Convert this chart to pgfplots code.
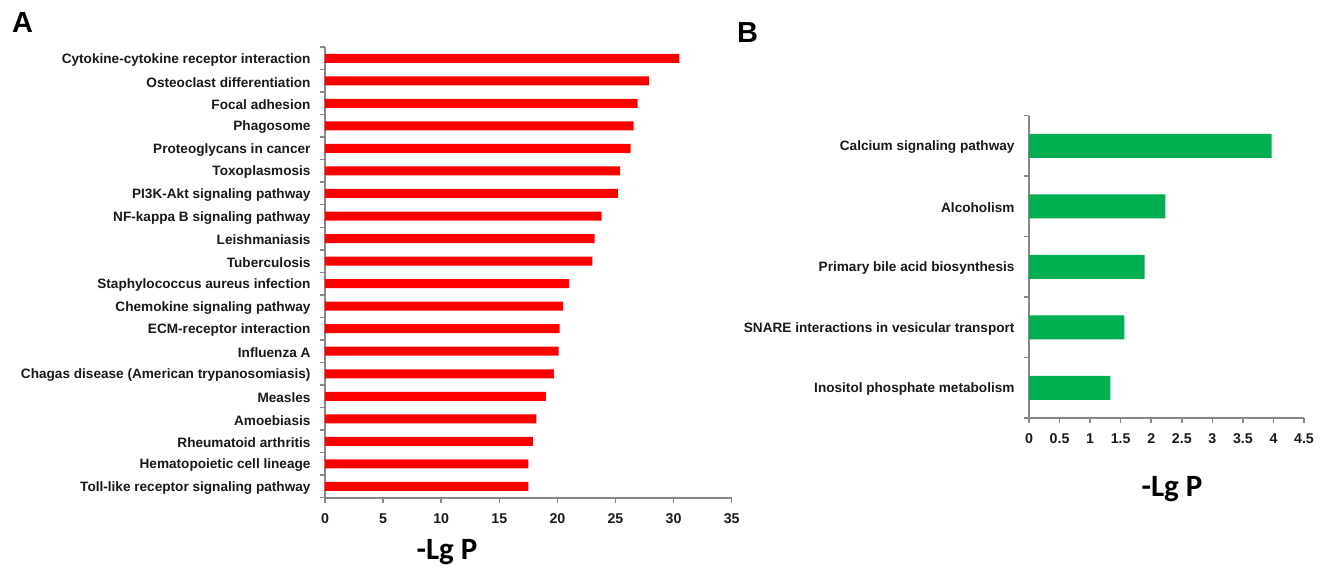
\documentclass[border=0pt]{standalone}
\usepackage{pgfplots}
\pgfplotsset{compat=1.18}
\usepackage{fontspec}
\setmainfont{Liberation Sans}
\newfontfamily\calibri{Carlito}
\definecolor{axgray}{RGB}{135,135,135}
\definecolor{barred}{RGB}{255,0,0}
\definecolor{bargreen}{RGB}{0,176,80}
\begin{document}
\begin{tikzpicture}
\path[use as bounding box] (0pt,0pt) rectangle (1331pt,574pt);
\pgfplotsset{
  common/.style={
    scale only axis,
    xbar, bar shift=0pt,
    axis x line*=bottom, axis y line*=left,
    axis line style={-, axgray, line width=1.8pt},
    tick align=outside,
    every tick/.style={axgray, line width=1.5pt},
    major tick length=5pt, minor tick length=5pt,
    every major y tick/.append style={draw=none},
    tick label style={font=\bfseries\fontsize{13.6}{15}\selectfont, text=black!90},
    /pgf/number format/assume math mode=true,
    xticklabel style={yshift=-7pt, font=\bfseries\fontsize{14.2}{15}\selectfont},
    yticklabel style={xshift=-6pt, yshift=-1.5pt},
    xlabel style={font=\calibri\bfseries\fontsize{31}{34}\selectfont, anchor=base},
  }
}
% Panel A
\begin{axis}[common,
  at={(325pt,76.3pt)}, anchor=south west,
  width=406.7pt, height=450.7pt,
  xmin=0, xmax=35, xtick={0,5,...,35},
  ymin=-0.5, ymax=19.5,
  ytick={0,...,19},
  minor ytick={-0.5,0.5,...,19.5},
  yticklabels={Toll-like receptor signaling pathway,
    Hematopoietic cell lineage,
    Rheumatoid arthritis,
    Amoebiasis,
    Measles,
    Chagas disease (American trypanosomiasis),
    Influenza A,
    ECM-receptor interaction,
    Chemokine signaling pathway,
    Staphylococcus aureus infection,
    Tuberculosis,
    Leishmaniasis,
    NF-kappa B signaling pathway,
    PI3K-Akt signaling pathway,
    Toxoplasmosis,
    Proteoglycans in cancer,
    Phagosome,
    Focal adhesion,
    Osteoclast differentiation,
    Cytokine-cytokine receptor interaction},
  bar width=9pt,
  xlabel={-Lg P},
  xlabel style={at={(axis description cs:0.30,-0.138)}},
]
\addplot[draw=none, fill=barred] coordinates {
(17.5,0) (17.5,1) (17.9,2) (18.2,3) (19.0,4) (19.7,5) (20.1,6) (20.2,7)
(20.5,8) (21.0,9) (23.0,10) (23.2,11) (23.8,12) (25.2,13) (25.4,14)
(26.3,15) (26.55,16) (26.9,17) (27.9,18) (30.5,19)};
\end{axis}
% Panel B
\begin{axis}[common,
  at={(1029pt,156pt)}, anchor=south west,
  width=275pt, height=302.5pt,
  xmin=0, xmax=4.5, xtick={0,0.5,...,4.5},
  ymin=-0.5, ymax=4.5,
  ytick={0,...,4},
  minor ytick={-0.5,0.5,...,4.5},
  yticklabels={Inositol phosphate metabolism,
    SNARE interactions in vesicular transport,
    Primary bile acid biosynthesis,
    Alcoholism,
    Calcium signaling pathway},
  bar width=24pt,
  xlabel={-Lg P},
  xlabel style={at={(axis description cs:0.52,-0.261)}},
]
\addplot[draw=none, fill=bargreen] coordinates {
(1.33,0) (1.56,1) (1.89,2) (2.23,3) (3.97,4)};
\end{axis}
\node[anchor=base west, font=\bfseries\fontsize{29}{32}\selectfont, inner sep=0pt] at (12pt,541pt) {A};
\node[anchor=base west, font=\bfseries\fontsize{29}{32}\selectfont, inner sep=0pt] at (737pt,531pt) {B};
\end{tikzpicture}
\end{document}
